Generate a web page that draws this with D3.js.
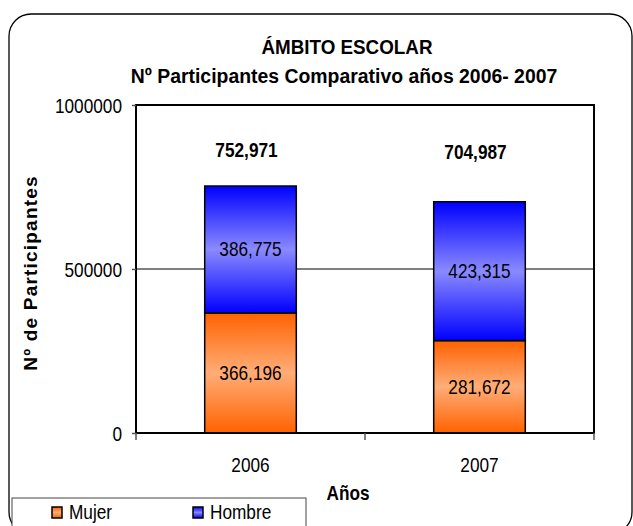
<!DOCTYPE html>
<html>
<head>
<meta charset="utf-8">
<script src="https://cdn.jsdelivr.net/npm/d3@7"></script>
<style>
  body { margin: 0; background: #fff; }
  svg text { font-family: "Liberation Sans", Arial, Helvetica, sans-serif; fill: #000; }
</style>
</head>
<body>
<div id="chart"></div>
<script>
// datos del gráfico
const years = ['2006', '2007'];
const mujer = [366196, 281672];
const hombre = [386775, 423315];
const yTicks = [0, 500000, 1000000];
const seriesNames = ['Mujer', 'Hombre'];

const W = 633, H = 526;
const plot = { left: 136, right: 594, top: 105, bottom: 433 };
const NARROW = 0.82; // el original usa una fuente estrecha

const svg = d3.select('#chart').append('svg')
  .attr('width', W)
  .attr('height', H);

// comprime el texto horizontalmente (tipo Arial Narrow)
function narrow(sel, k) {
  const f = k || NARROW;
  sel.each(function() {
    const len = this.getComputedTextLength();
    d3.select(this)
      .attr('textLength', len * f)
      .attr('lengthAdjust', 'spacingAndGlyphs');
  });
}

// gradientes (oscuro en bordes, claro en el centro)
const defs = svg.append('defs');
function grad(id, edge, mid) {
  const g = defs.append('linearGradient').attr('id', id)
    .attr('x1', 0).attr('y1', 0).attr('x2', 0).attr('y2', 1);
  g.append('stop').attr('offset', '0%').attr('stop-color', edge);
  g.append('stop').attr('offset', '50%').attr('stop-color', mid);
  g.append('stop').attr('offset', '100%').attr('stop-color', edge);
}
grad('gMujer', '#ff6200', '#ffad78');
grad('gHombre', '#0000ff', '#8a8aff');
const fills = ['url(#gMujer)', 'url(#gHombre)'];

// marco exterior redondeado
svg.append('rect')
  .attr('x', 9).attr('y', 14)
  .attr('width', 623).attr('height', 520)
  .attr('rx', 22).attr('ry', 22)
  .attr('fill', '#fff')
  .attr('stroke', '#000')
  .attr('stroke-width', 1.3);

const x = d3.scaleBand()
  .domain(years)
  .range([plot.left, plot.right])
  .paddingInner(0.6)
  .paddingOuter(0.3);

const y = d3.scaleLinear()
  .domain([0, 1000000])
  .range([plot.bottom, plot.top]);

// línea de cuadrícula
svg.append('g')
  .selectAll('line')
  .data(yTicks.filter(d => d > 0 && d < 1000000))
  .enter().append('line')
  .attr('x1', plot.left).attr('x2', plot.right)
  .attr('y1', d => y(d)).attr('y2', d => y(d))
  .attr('stroke', '#808080')
  .attr('stroke-width', 2);

// barras apiladas
const stackData = years.map((yr, i) => ({ year: yr, Mujer: mujer[i], Hombre: hombre[i] }));
const stack = d3.stack().keys(seriesNames)(stackData);

const layers = svg.selectAll('.layer')
  .data(stack)
  .enter().append('g')
  .attr('class', 'layer');

layers.selectAll('rect')
  .data((d, i) => d.map(p => ({ p, i })))
  .enter().append('rect')
  .attr('x', d => x(d.p.data.year))
  .attr('width', x.bandwidth())
  .attr('y', d => y(d.p[1]))
  .attr('height', d => y(d.p[0]) - y(d.p[1]))
  .attr('fill', d => fills[d.i])
  .attr('stroke', '#000')
  .attr('stroke-width', 1.5);

const fmt = d3.format(',');

// etiquetas de valores
layers.selectAll('text')
  .data(d => d)
  .enter().append('text')
  .attr('x', d => x(d.data.year) + x.bandwidth() / 2)
  .attr('y', d => (y(d[0]) + y(d[1])) / 2 + 7)
  .attr('text-anchor', 'middle')
  .style('font-size', '21px')
  .text(d => fmt(d[1] - d[0]))
  .call(narrow);

// totales
svg.selectAll('.total')
  .data(years)
  .enter().append('text')
  .attr('class', 'total')
  .attr('x', d => x(d) + x.bandwidth() / 2 - 4)
  .attr('y', (d, i) => 157 + i * 2)
  .attr('text-anchor', 'middle')
  .style('font-size', '21px')
  .style('font-weight', 'bold')
  .text((d, i) => fmt(mujer[i] + hombre[i]))
  .call(narrow);

// borde del área de trazado
svg.append('rect')
  .attr('x', plot.left).attr('y', plot.top)
  .attr('width', plot.right - plot.left)
  .attr('height', plot.bottom - plot.top)
  .attr('fill', 'none')
  .attr('stroke', '#000')
  .attr('stroke-width', 2);

// eje Y
const yAxis = svg.append('g')
  .attr('transform', `translate(${plot.left},0)`)
  .call(d3.axisLeft(y).tickValues(yTicks).tickFormat(d3.format('d')).tickSize(4).tickPadding(10));
yAxis.select('.domain').remove();
yAxis.selectAll('line').attr('stroke', '#555').attr('stroke-width', 1.5);
yAxis.selectAll('text')
  .attr('dy', '0.35em')
  .attr('fill', '#000')
  .style('font-size', '21px')
  .style('font-family', '"Liberation Sans", Arial, sans-serif')
  .call(narrow);

// eje X: marcas en los límites de categoría
const bounds = d3.range(years.length + 1).map(i => plot.left + i * x.step());
svg.append('g').selectAll('line')
  .data(bounds)
  .enter().append('line')
  .attr('x1', d => d).attr('x2', d => d)
  .attr('y1', plot.bottom).attr('y2', plot.bottom + 7)
  .attr('stroke', '#555').attr('stroke-width', 1.5);

svg.append('g').selectAll('text')
  .data(years)
  .enter().append('text')
  .attr('x', d => x(d) + x.bandwidth() / 2)
  .attr('y', 472)
  .attr('text-anchor', 'middle')
  .style('font-size', '21px')
  .text(d => d)
  .call(narrow);

// títulos
svg.append('text')
  .attr('x', 347).attr('y', 54)
  .attr('text-anchor', 'middle')
  .style('font-size', '20px').style('font-weight', 'bold')
  .text('ÁMBITO ESCOLAR')
  .call(narrow, 0.94);

svg.append('text')
  .attr('x', 344).attr('y', 83)
  .attr('text-anchor', 'middle')
  .style('font-size', '20px').style('font-weight', 'bold')
  .text('Nº Participantes Comparativo años 2006- 2007')
  .call(narrow, 0.97);

svg.append('text')
  .attr('x', 348).attr('y', 500)
  .attr('text-anchor', 'middle')
  .style('font-size', '21px').style('font-weight', 'bold')
  .text('Años')
  .call(narrow);

svg.append('text')
  .attr('transform', 'translate(37,273) rotate(-90)')
  .attr('text-anchor', 'middle')
  .style('font-size', '19px').style('font-weight', 'bold')
  .style('letter-spacing', '1.2px')
  .text('Nº de Participantes');

// leyenda
const legend = svg.append('g');
legend.append('rect')
  .attr('x', 12).attr('y', 498)
  .attr('width', 294).attr('height', 40)
  .attr('fill', '#fff')
  .attr('stroke', '#444')
  .attr('stroke-width', 1);

const legX = [52, 193];
const items = legend.selectAll('.item')
  .data(seriesNames)
  .enter().append('g')
  .attr('transform', (d, i) => `translate(${legX[i]},507)`);
items.append('rect')
  .attr('width', 10).attr('height', 11)
  .attr('fill', (d, i) => fills[i])
  .attr('stroke', '#000').attr('stroke-width', 1.5);
items.append('text')
  .attr('x', 17).attr('y', 12)
  .style('font-size', '21px')
  .text(d => d)
  .call(narrow);
</script>
</body>
</html>
